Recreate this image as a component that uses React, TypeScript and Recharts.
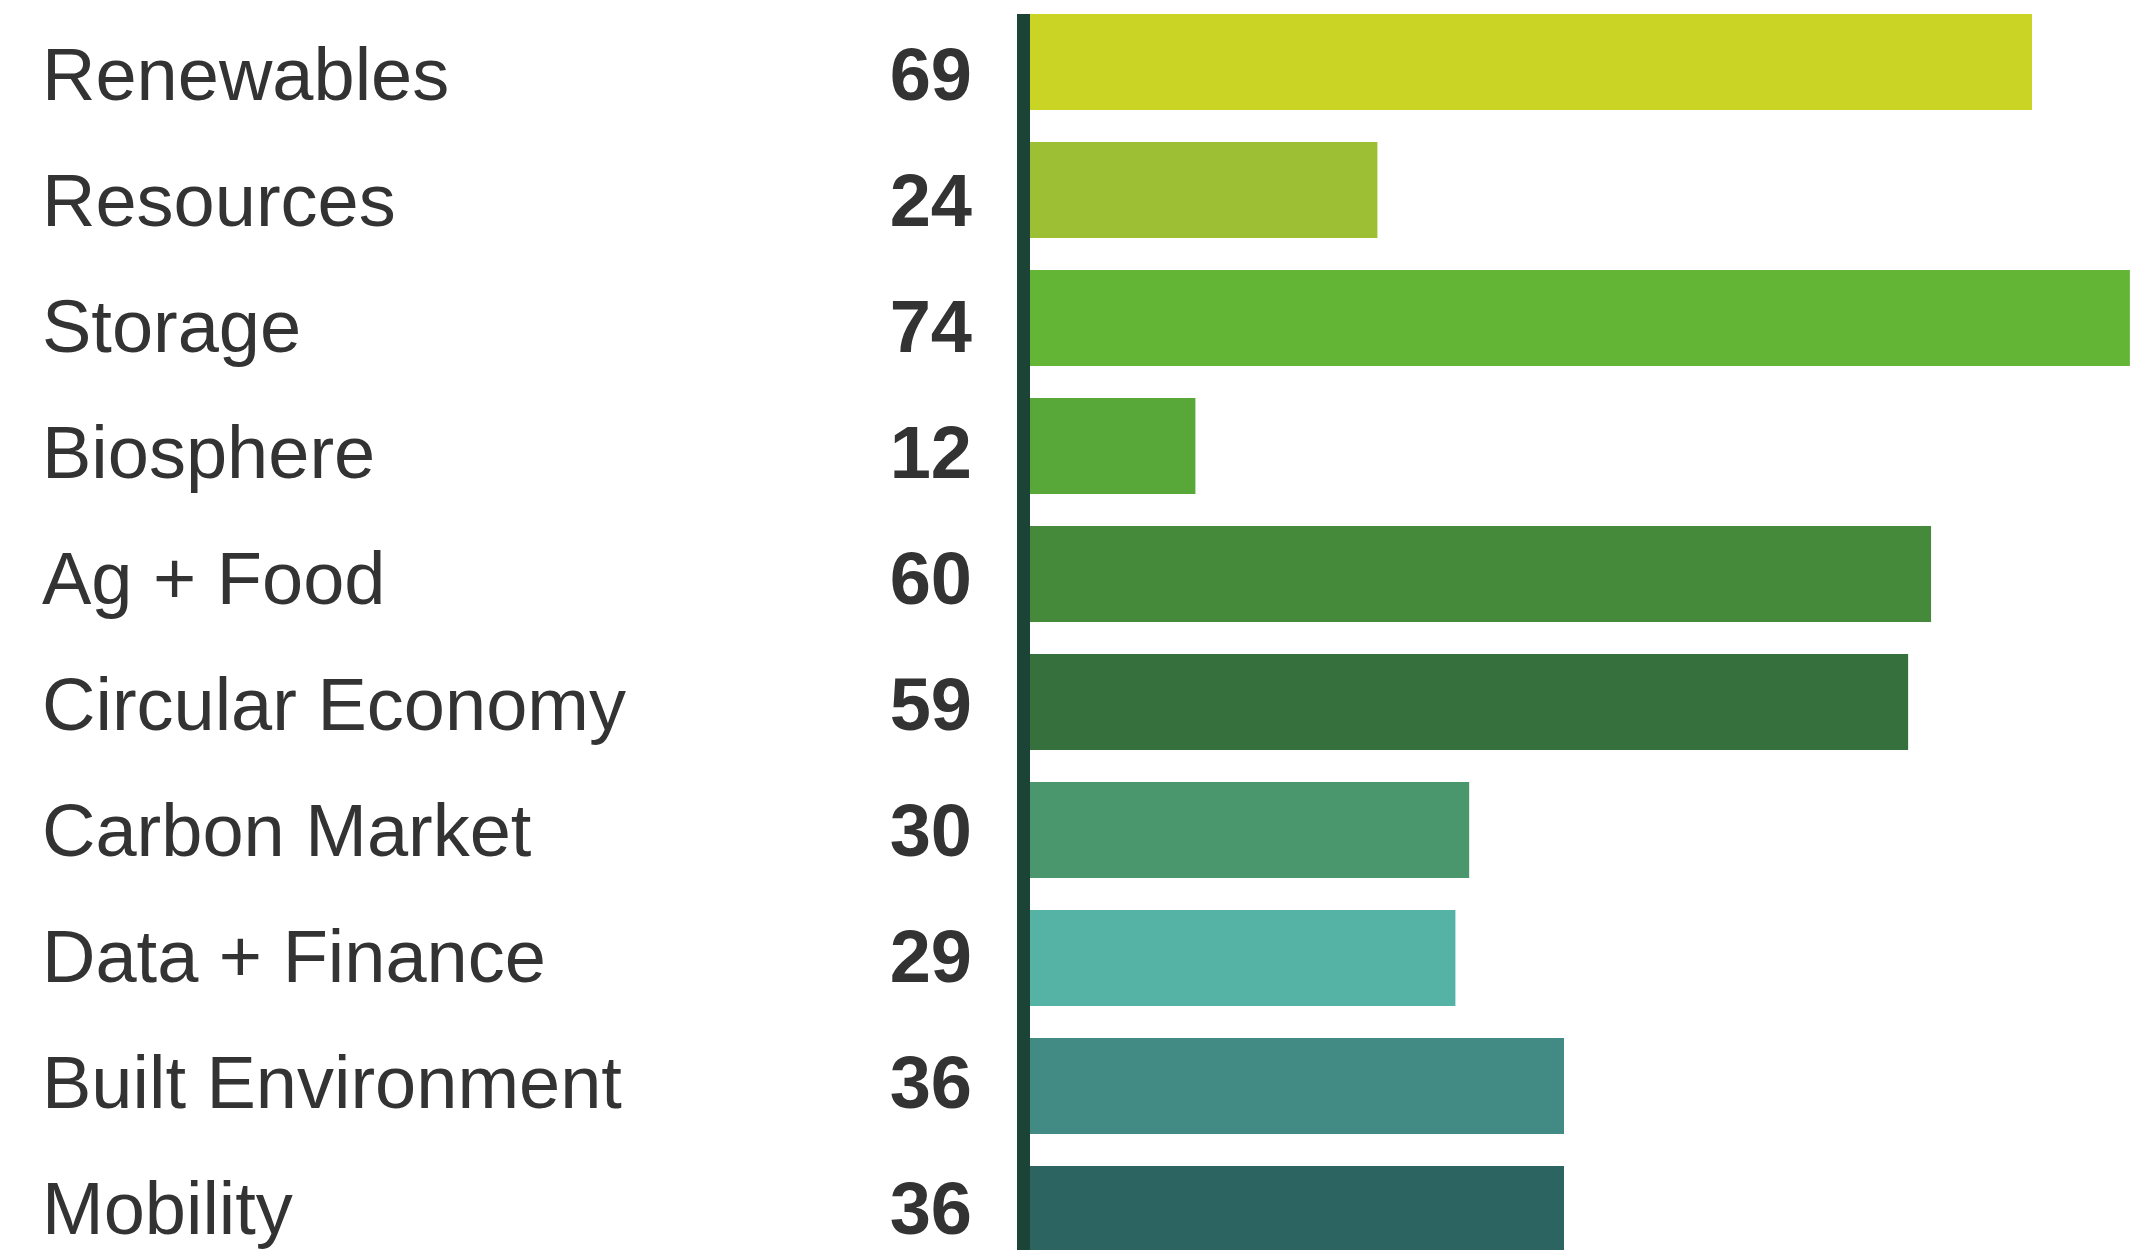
import React from 'react';
import { BarChart, Bar, XAxis, YAxis, Cell } from 'recharts';

// sectors, top to bottom
const sectors = [
  'Renewables',
  'Resources',
  'Storage',
  'Biosphere',
  'Ag + Food',
  'Circular Economy',
  'Carbon Market',
  'Data + Finance',
  'Built Environment',
  'Mobility',
];

// numbers printed next to each sector
const counts = [69, 24, 74, 12, 60, 59, 30, 29, 36, 36];

// bar lengths
const barValues = [66.3, 23.5, 72.7, 11.6, 59.7, 58.2, 29.5, 28.6, 35.7, 35.7];

const barColors = [
  '#c9d424',
  '#9dbf34',
  '#62b535',
  '#57a838',
  '#448a3a',
  '#35703d',
  '#4a976e',
  '#55b3a6',
  '#428b84',
  '#2c6462',
];

const data = sectors.map((name, i) => ({ name, value: barValues[i], count: counts[i] }));

const FONT = '"Liberation Sans", Arial, Helvetica, sans-serif';
const TEXT = '#333333';

const SectorTick = (props: any) => {
  const { y, index, payload } = props;
  const dy = 38 - 2 * index;
  return (
    <g>
      <text x={42} y={y + dy} fontFamily={FONT} fontSize={74} fill={TEXT} textAnchor="start">
        {payload.value}
      </text>
      <text x={972} y={y + dy} fontFamily={FONT} fontSize={74} fontWeight="bold" fill={TEXT} textAnchor="end">
        {counts[index]}
      </text>
    </g>
  );
};

const App: React.FC = () => {
  return (
    <div style={{ position: 'absolute', left: 0, top: 0, width: 2136, height: 1250, overflow: 'hidden', background: '#fff' }}>
      <BarChart
        layout="vertical"
        width={2136}
        height={1278}
        data={data}
        margin={{ top: -2, right: 0, bottom: 0, left: 0 }}
      >
        <XAxis type="number" domain={[0, 73.1]} hide />
        <YAxis
          type="category"
          dataKey="name"
          width={1018}
          axisLine={false}
          tickLine={false}
          tick={<SectorTick />}
          interval={0}
        />
        <Bar dataKey="value" barSize={96} isAnimationActive={false}>
          {data.map((d, i) => (
            <Cell key={d.name} fill={barColors[i]} />
          ))}
        </Bar>
      </BarChart>
      {/* the thick baseline next to the bars */}
      <div style={{ position: 'absolute', left: 1017, top: 14, width: 13, height: 1236, background: '#1c4436' }} />
    </div>
  );
};

export default App;
